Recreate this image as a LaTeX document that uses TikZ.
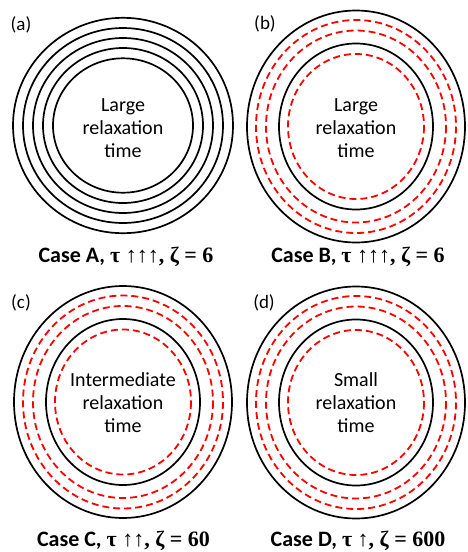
\documentclass[tikz,border=0pt]{standalone}
\usepackage{fontspec}
\setmainfont{Carlito}
\newfontfamily\capserif{Liberation Serif}
\usetikzlibrary{positioning}
\tikzset{
  ring/.style={line width=1.7pt,black},
  redring/.style={line width=1.8pt,red,dash pattern=on 7pt off 4pt},
  panel/.style={font=\fontsize{19}{22}\selectfont},
  inner/.style={align=center,font=\fontsize{20}{23}\selectfont},
  caption/.style={font=\fontsize{22}{26}\selectfont\bfseries}
}
\newcommand{\casemath}[1]{{\capserif\bfseries #1}}
\begin{document}
\begin{tikzpicture}[x=1pt,y=-1pt]
\useasboundingbox (0,0) rectangle (467,552);
% (a) five black rings
\foreach \rx/\ry in {110/107.7,100/97.5,90/87.5,80/77.5,70/67.2}
  \draw[ring] (123,125.5) ellipse [x radius=\rx, y radius=\ry];
% (b), (c), (d) black and red rings
\foreach \cx/\cy in {356/126.5,123/402,356/402.5}{
  \draw[ring] (\cx,\cy) ellipse [x radius=109, y radius=116];
  \draw[ring] (\cx,\cy) ellipse [x radius=77, y radius=83];
  \foreach \rx/\ry in {100/106.5,90/96,68/72.5}
    \draw[redring] (\cx,\cy) ellipse [x radius=\rx, y radius=\ry];
}
\node[panel] (lbla) at (21,25) {(a)};
\node[panel] (lblb) at (265,24) {(b)};
\node[panel] (lblc) at (21,303) {(c)};
\node[panel] (lbld) at (264,303) {(d)};
\node[inner] (txta) at (123,128) {Large\\relaxation\\time};
\node[inner] (txtb) at (356,128) {Large\\relaxation\\time};
\node[inner] (txtc) at (123,403) {Intermediate\\relaxation\\time};
\node[inner] (txtd) at (356,403) {Small\\relaxation\\time};
\node[caption] (capa) at (126,257) {Case A, \casemath{τ ↑↑↑, ζ = 6}};
\node[caption] (capb) at (358,257) {Case B, \casemath{τ ↑↑↑, ζ = 6}};
\node[caption] (capc) at (123.5,541) {Case C, \casemath{τ ↑↑, ζ = 60}};
\node[caption] (capd) at (358,541) {Case D, \casemath{τ ↑, ζ = 600}};
\end{tikzpicture}
\end{document}
